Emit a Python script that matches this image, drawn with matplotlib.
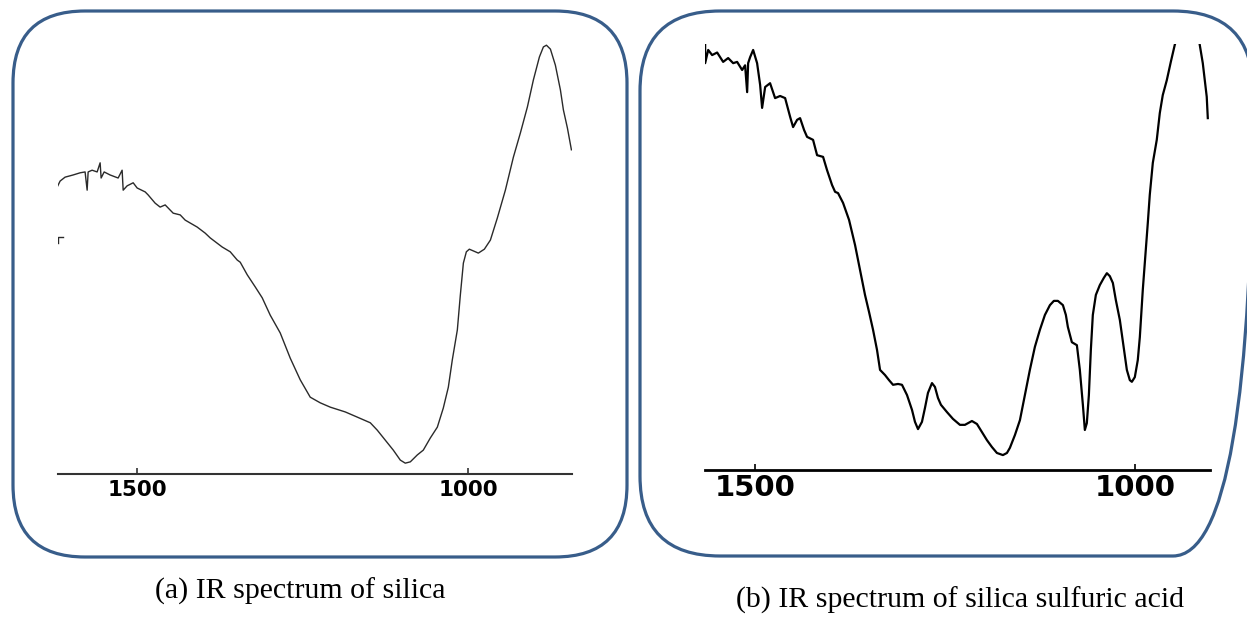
import matplotlib
matplotlib.use("Agg")
import matplotlib.pyplot as plt
from matplotlib.patches import FancyBboxPatch

# (a) IR spectrum of silica: wavenumber (cm-1) vs. transmittance (%)
silica_wn = [1620.8, 1616.3, 1608.8, 1596.7, 1586.1, 1578.6, 1575.5, 1574.0, 1568.0, 1560.4,
             1555.9, 1554.4, 1549.8, 1540.8, 1528.7, 1522.7, 1521.1, 1515.1, 1506.0, 1500.0,
             1487.9, 1483.4, 1472.8, 1465.3, 1457.7, 1445.6, 1435.0, 1427.5, 1409.4, 1397.3,
             1389.7, 1371.6, 1359.5, 1348.9, 1344.4, 1333.8, 1321.7, 1311.2, 1299.1, 1284.0,
             1268.9, 1253.8, 1238.7, 1223.6, 1208.4, 1185.8, 1167.6, 1148.0, 1137.5, 1125.4,
             1113.3, 1102.7, 1095.2, 1087.6, 1077.0, 1068.0, 1057.4, 1046.8, 1037.8, 1030.2,
             1024.2, 1016.6, 1012.1, 1007.5, 1003.0, 998.5, 992.4, 984.9, 975.8, 966.7,
             956.2, 944.1, 932.0, 921.4, 910.8, 901.8, 892.7, 886.7, 882.1, 876.1,
             868.6, 861.0, 856.5, 850.4, 844.4]
silica_t = [66.1, 67.5, 68.4, 68.9, 69.4, 69.6, 65.4, 69.6, 70.0, 69.6,
            71.7, 68.2, 69.6, 68.9, 68.2, 70.0, 65.4, 66.4, 67.1, 65.9,
            65.0, 64.3, 62.4, 61.5, 62.0, 60.1, 59.7, 58.5, 56.9, 55.5,
            54.4, 52.3, 51.2, 49.3, 48.8, 45.9, 43.1, 40.6, 36.6, 32.5,
            26.7, 21.7, 17.7, 16.4, 15.4, 14.3, 13.1, 11.8, 10.1, 7.8,
            5.5, 3.2, 2.5, 2.8, 4.4, 5.5, 8.3, 10.8, 15.2, 20.0,
            26.3, 33.2, 41.2, 48.6, 51.2, 51.8, 51.4, 50.9, 51.8, 53.9,
            59.0, 65.4, 73.0, 78.6, 84.6, 90.8, 96.1, 98.4, 98.8, 97.9,
            94.2, 88.5, 83.9, 79.7, 74.7]
# small stray trace fragment at the left edge of (a)
stray_wn = [1612.0, 1619.0, 1619.0]
stray_t = [54.6, 54.6, 53.2]

# (b) IR spectrum of silica sulfuric acid
ssa_wn = [1565.8, 1565.8, 1561.8, 1556.6, 1550.0, 1542.1, 1535.5, 1528.9, 1523.7, 1517.1,
          1513.2, 1510.5, 1509.2, 1506.6, 1502.6, 1497.4, 1493.4, 1490.8, 1486.8, 1480.3,
          1473.7, 1467.1, 1460.5, 1453.9, 1450.0, 1444.7, 1440.8, 1435.5, 1431.6, 1423.7,
          1418.4, 1410.5, 1405.3, 1398.7, 1394.7, 1390.8, 1384.2, 1376.3, 1368.4, 1361.8,
          1355.3, 1350.0, 1344.7, 1339.5, 1335.5, 1329.0, 1323.7, 1318.4, 1311.8, 1306.6,
          1300.0, 1293.4, 1289.5, 1285.5, 1280.3, 1276.3, 1272.4, 1267.1, 1263.2, 1259.2,
          1255.3, 1247.4, 1239.5, 1230.3, 1223.7, 1214.5, 1207.9, 1201.3, 1194.7, 1188.2,
          1181.6, 1173.7, 1168.4, 1164.5, 1157.9, 1151.3, 1144.7, 1138.2, 1131.6, 1125.0,
          1118.4, 1111.8, 1106.6, 1101.3, 1094.7, 1090.8, 1088.2, 1082.9, 1076.3, 1072.4,
          1068.4, 1065.8, 1063.2, 1060.5, 1057.9, 1055.3, 1051.3, 1046.1, 1040.8, 1036.8,
          1032.9, 1028.9, 1025.0, 1019.7, 1014.5, 1010.5, 1006.6, 1003.9, 1000.0, 996.1,
          993.4, 989.5, 986.8, 982.9, 980.3, 976.3, 971.1, 967.1, 963.2, 957.9,
          952.6, 947.4, 940.8, 927.6, 917.1, 914.5, 910.5, 907.9, 905.3, 903.9]
ssa_t = [99.8, 95.5, 98.6, 97.4, 98.0, 95.8, 96.7, 95.5, 95.8, 93.9,
         95.0, 88.7, 95.5, 96.9, 98.6, 95.5, 90.4, 85.0, 89.9, 90.8,
         87.3, 87.8, 87.3, 82.9, 80.5, 82.2, 82.6, 79.8, 78.2, 77.5,
         73.9, 73.5, 70.4, 66.9, 65.3, 65.0, 62.7, 58.7, 52.8, 46.9,
         41.1, 37.1, 32.9, 28.2, 23.5, 22.3, 21.1, 20.0, 20.2, 20.0,
         17.6, 14.1, 11.3, 9.6, 11.3, 14.6, 18.1, 20.4, 19.5, 16.9,
         15.3, 13.6, 12.0, 10.6, 10.6, 11.5, 10.8, 8.9, 7.0, 5.4,
         4.0, 3.5, 4.0, 5.2, 8.2, 11.7, 17.6, 23.5, 28.9, 32.9,
         36.4, 38.7, 39.7, 39.7, 38.7, 36.4, 33.6, 30.0, 29.3, 23.5,
         15.3, 9.4, 11.0, 17.6, 28.2, 36.4, 41.1, 43.4, 45.1, 46.2,
         45.5, 43.9, 39.9, 35.2, 28.6, 23.5, 21.1, 20.7, 21.8, 25.8,
         31.2, 42.3, 48.6, 58.0, 64.6, 72.1, 77.5, 83.8, 88.0, 91.5,
         95.8, 99.8, 103.3, 105.2, 102.8, 99.8, 95.5, 91.5, 87.6, 82.6]

tick_values = [1500, 1000]
captions = ["(a) IR spectrum of silica", "(b) IR spectrum of silica sulfuric acid"]

W, H = 1247, 617
fig = plt.figure(figsize=(W / 100, H / 100), dpi=100)
fig.patch.set_facecolor("white")

# background layer in pixel coordinates for the rounded frames and captions
bg = fig.add_axes([0, 0, 1, 1], zorder=0)
bg.set_xlim(0, W)
bg.set_ylim(H, 0)
bg.axis("off")
frame_color = "#385D8A"
bg.add_patch(FancyBboxPatch((13, 11), 614, 546, boxstyle="round,pad=0,rounding_size=72",
                            fill=False, edgecolor=frame_color, linewidth=2.3))
# right edge of frame (b) runs just past the image border
bg.add_patch(FancyBboxPatch((640, 11), 613, 545, boxstyle="round,pad=0,rounding_size=80",
                            fill=False, edgecolor=frame_color, linewidth=2.3))
bg.text(300, 591, captions[0], ha="center", va="center", fontsize=21.5,
        family="Liberation Serif", color="black")
bg.text(960, 600, captions[1], ha="center", va="center", fontsize=21.5,
        family="Liberation Serif", color="black")


def style_axis(ax, xlim, lw, col, fsize, pad):
    ax.set_xlim(*xlim)
    ax.set_ylim(0, 100)
    ax.patch.set_alpha(0)
    for s in ["top", "left", "right"]:
        ax.spines[s].set_visible(False)
    ax.spines["bottom"].set_linewidth(lw)
    ax.spines["bottom"].set_color(col)
    ax.set_yticks([])
    ax.set_xticks(tick_values)
    ax.set_xticklabels([str(v) for v in tick_values])
    ax.tick_params(axis="x", direction="in", length=4, width=1.2, color=col,
                   pad=pad, labelsize=fsize)
    for lab in ax.get_xticklabels():
        lab.set_fontweight("bold")
        lab.set_family("DejaVu Sans")


ax1 = fig.add_axes([58 / W, 1 - 474 / H, (572 - 58) / W, (474 - 40) / H], zorder=1)
ax1.plot(silica_wn, silica_t, color="#2a2a2a", linewidth=1.0)
ax1.plot(stray_wn, stray_t, color="#2a2a2a", linewidth=1.0)
style_axis(ax1, (1619.5, 843.5), 1.5, "#333333", 15.5, 4)

ax2 = fig.add_axes([705 / W, 1 - 470 / H, (1210 - 705) / W, (470 - 44) / H], zorder=1)
ax2.plot(ssa_wn, ssa_t, color="black", linewidth=1.6)
style_axis(ax2, (1566, 901), 2.0, "black", 21, 3)

fig.savefig("out.png", dpi=100, facecolor="white")
